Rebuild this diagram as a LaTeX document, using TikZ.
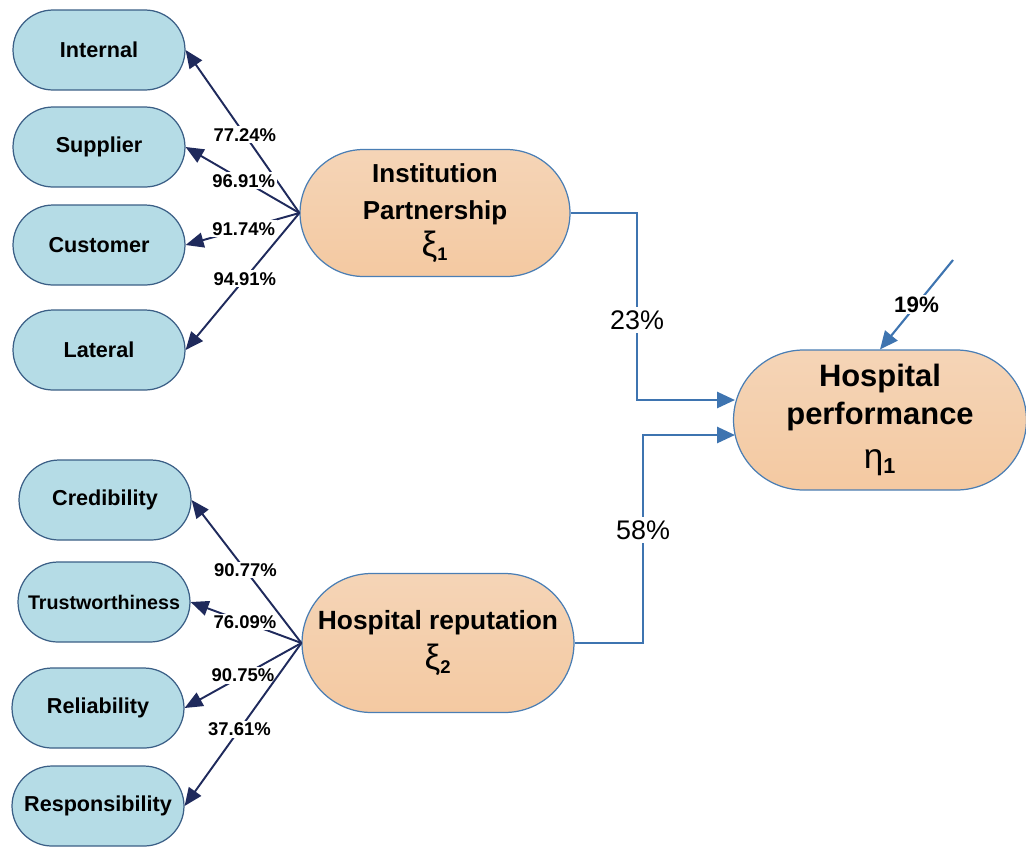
\documentclass[tikz,border=0pt]{standalone}
\usepackage{fontspec}
\setmainfont{Liberation Sans}
\usetikzlibrary{shapes.misc,arrows.meta}

\definecolor{indfill}{HTML}{B5DCE6}
\definecolor{indline}{HTML}{3B5F86}
\definecolor{latfill}{HTML}{F3CDAA}
\definecolor{latline}{HTML}{4A7EB4}
\definecolor{navy}{HTML}{1F2A5C}
\definecolor{pathblue}{HTML}{3E74B0}

\newcommand{\lv}[2]{{\mdseries\fontsize{20}{20}\selectfont #1}\textsubscript{#2}}

\begin{document}
\begin{tikzpicture}[x=0.02cm,y=-0.02cm,
  indicator/.style={rounded rectangle,draw=indline,fill=indfill,line width=0.7pt,
    minimum width=3.44cm,minimum height=1.6cm,inner sep=0pt,
    font=\fontsize{12.3}{15}\selectfont\bfseries},
  latent/.style={rounded rectangle,draw=latline,line width=0.7pt,
    top color=latfill!85!white,bottom color=latfill!95!orange,
    inner sep=0pt,align=center,font=\bfseries},
  load/.style={draw=navy,line width=1.1pt,-{Triangle[length=3.6mm,width=3mm]}},
  path/.style={draw=pathblue,line width=1.6pt,-{Triangle[length=3.6mm,width=3.2mm]}},
  pct/.style={fill=white,inner sep=1pt,font=\fontsize{10.5}{12}\selectfont\bfseries},
  coef/.style={fill=white,inner sep=2pt,font=\fontsize{15.3}{18}\selectfont}]

\useasboundingbox (0,0) rectangle (1026,849);

% indicators
\node[indicator] (int) at (99,50) {Internal};
\node[indicator] (sup) at (99,147) {Supplier};
\node[indicator] (cus) at (99,245) {Customer};
\node[indicator] (lat) at (99,350) {Lateral};

\node[indicator] (cred) at (105,500) {Credibility};
\node[indicator,font=\fontsize{11.2}{13}\selectfont\bfseries] (trust) at (104,602) {Trustworthiness};
\node[indicator] (rel) at (98,708) {Reliability};
\node[indicator] (resp) at (98,806) {Responsibility};

% latent variables
\node[latent,minimum width=5.4cm,minimum height=2.54cm,
  font=\fontsize{14.8}{21}\selectfont\bfseries] (ip) at (435,213)
  {Institution\\Partnership\\\lv{ξ}{1}};
\node[latent,minimum width=5.44cm,minimum height=2.78cm,
  font=\fontsize{15}{23}\selectfont\bfseries] (hr) at (438,643)
  {Hospital reputation\\\lv{ξ}{2}};
\node[latent,minimum width=5.86cm,minimum height=2.8cm,
  font=\fontsize{17.6}{22}\selectfont\bfseries] (hp) at (880,420)
  {Hospital\\performance\\[3pt]\lv{η}{1}};

% loadings
\draw[load] (ip.west) -- (int.east) node[pct,pos=0.48] {77.24\%};
\draw[load] (ip.west) -- (sup.east) node[pct,pos=0.49] {96.91\%};
\draw[load] (ip.west) -- (cus.east) node[pct,pos=0.49] {91.74\%};
\draw[load] (ip.west) -- (lat.east) node[pct,pos=0.48] {94.91\%};

\draw[load] (hr.west) -- (cred.east) node[pct,pos=0.51] {90.77\%};
\draw[load] (hr.west) -- (trust.east) node[pct,pos=0.51] {76.09\%};
\draw[load] (hr.west) -- (rel.east) node[pct,pos=0.5] {90.75\%};
\draw[load] (hr.west) -- (resp.east) node[pct,pos=0.53] {37.61\%};

% structural paths
\coordinate (j1) at (637,400);
\coordinate (j2) at (643,435);
\coordinate (e1) at (735,400);
\coordinate (e2) at (735,435);
\coordinate (r1) at (953,260);
\draw[path] (ip.east) -| (j1) -- (e1);
\node[coef] at (637,320) {23\%};
\draw[path] (hr.east) -| (j2) -- (e2);
\node[coef] at (643,530) {58\%};
\draw[draw=pathblue,line width=1.2pt,-{Triangle[length=3.6mm,width=3.2mm]}] (r1) -- (hp.north)
  node[fill=white,inner sep=1pt,pos=0.5,font=\fontsize{12.7}{15}\selectfont\bfseries] {19\%};

\end{tikzpicture}
\end{document}
